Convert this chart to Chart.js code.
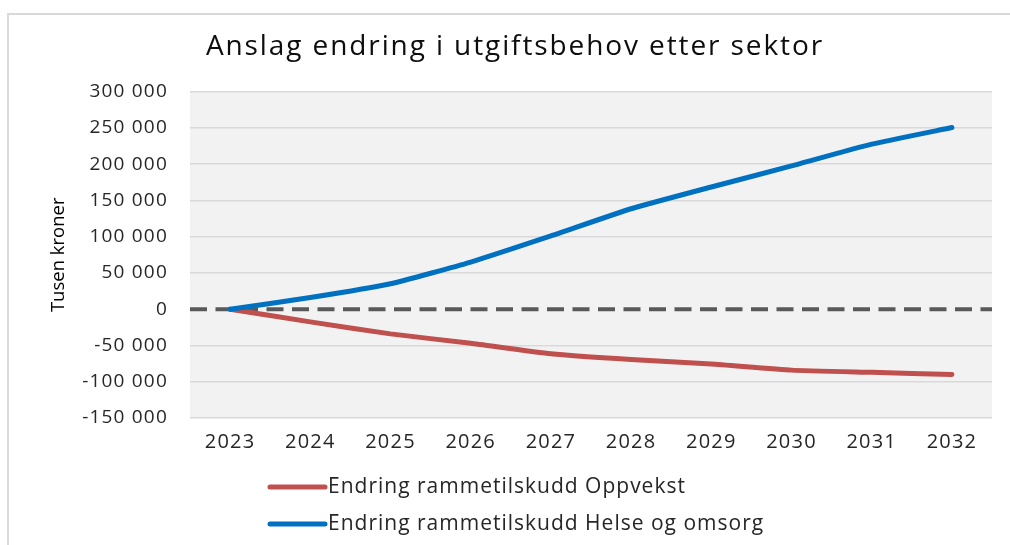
<!DOCTYPE html>
<html>
<head>
<meta charset="utf-8">
<script src="https://cdn.jsdelivr.net/npm/chart.js@4.4.1/dist/chart.umd.min.js"></script>
<style>
  html, body { margin: 0; padding: 0; background: #fff; }
  #frame { position: absolute; left: 7px; top: 13px; width: 1100px; height: 600px;
           border-top: 2px solid #d9d9d9; border-left: 2px solid #d9d9d9; }
  #wrap { position: absolute; left: 0; top: 0; width: 1010px; height: 545px; }
</style>
</head>
<body>
<div id="frame"></div>
<div id="wrap"><canvas id="sektorChart"></canvas></div>
<script>
const years = ['2023', '2024', '2025', '2026', '2027', '2028', '2029', '2030', '2031', '2032'];
const oppvekst = [0, -17500, -34000, -47000, -61500, -69500, -75500, -84000, -87000, -90000];
const helseOmsorg = [0, 16000, 35000, 65000, 101000, 138500, 168500, 197500, 227500, 250500];
const seriesNames = ['Endring rammetilskudd Oppvekst', 'Endring rammetilskudd Helse og omsorg'];

const FONT = "'Open Sans', sans-serif";

function formatKr(v) {
    const s = String(Math.abs(v)).replace(/\B(?=(\d{3})+(?!\d))/g, ' ');
    return (v < 0 ? '-' : '') + s;
}

// tekstbredde: Excel-figuren er litt strukket på tvers
function withSpacing(ctx, obj, fn, spacing) {
    if (!obj || obj['_ls_' + fn]) return;
    const orig = obj[fn].bind(obj);
    obj[fn] = function (...args) {
        ctx.save();
        ctx.letterSpacing = spacing;
        orig(...args);
        ctx.restore();
    };
    obj['_ls_' + fn] = true;
}

// grå bakgrunn i plottet + stiplet nullinje
const plotArea = {
    id: 'plotArea',
    beforeDraw(chart) {
        const { ctx, chartArea } = chart;
        ctx.letterSpacing = '1.2px';
        withSpacing(ctx, chart.titleBlock, 'draw', '1.9px');
        withSpacing(ctx, chart.scales.y, 'drawTitle', '0px');
        ctx.save();
        ctx.fillStyle = '#f2f2f2';
        ctx.fillRect(chartArea.left, chartArea.top, chartArea.right - chartArea.left, chartArea.bottom - chartArea.top);
        ctx.restore();
    },
    beforeDatasetsDraw(chart) {
        const { ctx, chartArea } = chart;
        const y0 = chart.scales.y.getPixelForValue(0);
        ctx.save();
        ctx.strokeStyle = '#595959';
        ctx.lineWidth = 4;
        ctx.setLineDash([17, 8.5]);
        ctx.beginPath();
        ctx.moveTo(chartArea.left, y0);
        ctx.lineTo(chartArea.right, y0);
        ctx.stroke();
        ctx.restore();
    }
};

// legende under hverandre, venstrejustert
const stackedLegend = {
    id: 'stackedLegend',
    afterDraw(chart) {
        const { ctx, chartArea } = chart;
        const x = chartArea.left + 80;
        let y = chartArea.bottom + 69;
        ctx.save();
        ctx.font = '21px ' + FONT;
        ctx.letterSpacing = '1px';
        ctx.textBaseline = 'middle';
        chart.data.datasets.forEach(ds => {
            ctx.strokeStyle = ds.borderColor;
            ctx.lineWidth = 5;
            ctx.lineCap = 'round';
            ctx.beginPath();
            ctx.moveTo(x, y);
            ctx.lineTo(x + 55, y);
            ctx.stroke();
            ctx.fillStyle = '#262626';
            ctx.fillText(ds.label, x + 58, y);
            y += 37;
        });
        ctx.restore();
    }
};

const ctx = document.getElementById('sektorChart').getContext('2d');
new Chart(ctx, {
    type: 'line',
    data: {
        labels: years,
        datasets: [{
            label: seriesNames[0],
            data: oppvekst,
            borderColor: '#c0504d',
            borderWidth: 5,
            pointRadius: 0,
            tension: 0.15,
            borderCapStyle: 'round',
            order: 1
        }, {
            label: seriesNames[1],
            data: helseOmsorg,
            borderColor: '#0070c0',
            borderWidth: 5,
            pointRadius: 0,
            tension: 0.15,
            borderCapStyle: 'round',
            order: 0
        }]
    },
    options: {
        responsive: true,
        maintainAspectRatio: false,
        animation: false,
        layout: { padding: { left: 38, right: 18, top: 0, bottom: 0 } },
        scales: {
            x: {
                offset: true,
                grid: { display: false, drawTicks: false },
                border: { display: false },
                ticks: { color: '#262626', font: { family: FONT, size: 20 }, padding: 12, maxRotation: 0 },
                afterFit(s) { s.height = 127; }
            },
            y: {
                min: -150000,
                max: 300000,
                grid: {
                    drawTicks: false,
                    lineWidth: 1.5,
                    color: c => (c.tick && c.tick.value === 0) ? 'rgba(0,0,0,0)' : '#d9d9d9'
                },
                border: { display: false },
                ticks: {
                    stepSize: 50000,
                    padding: 22,
                    color: '#262626',
                    font: { family: FONT, size: 19 },
                    callback: v => formatKr(v)
                },
                title: {
                    display: true,
                    text: 'Tusen kroner',
                    color: '#000',
                    font: { family: FONT, size: 18.5 },
                    padding: { top: 10, bottom: 0 }
                },
                afterFit(s) { s.width = 152; }
            }
        },
        plugins: {
            legend: { display: false },
            tooltip: { enabled: false },
            title: {
                display: true,
                text: 'Anslag endring i utgiftsbehov etter sektor',
                color: '#0d0d0d',
                font: { family: FONT, size: 28, weight: 'normal' },
                padding: { top: 30, bottom: 28 }
            }
        }
    },
    plugins: [plotArea, stackedLegend]
});
</script>
</body>
</html>
